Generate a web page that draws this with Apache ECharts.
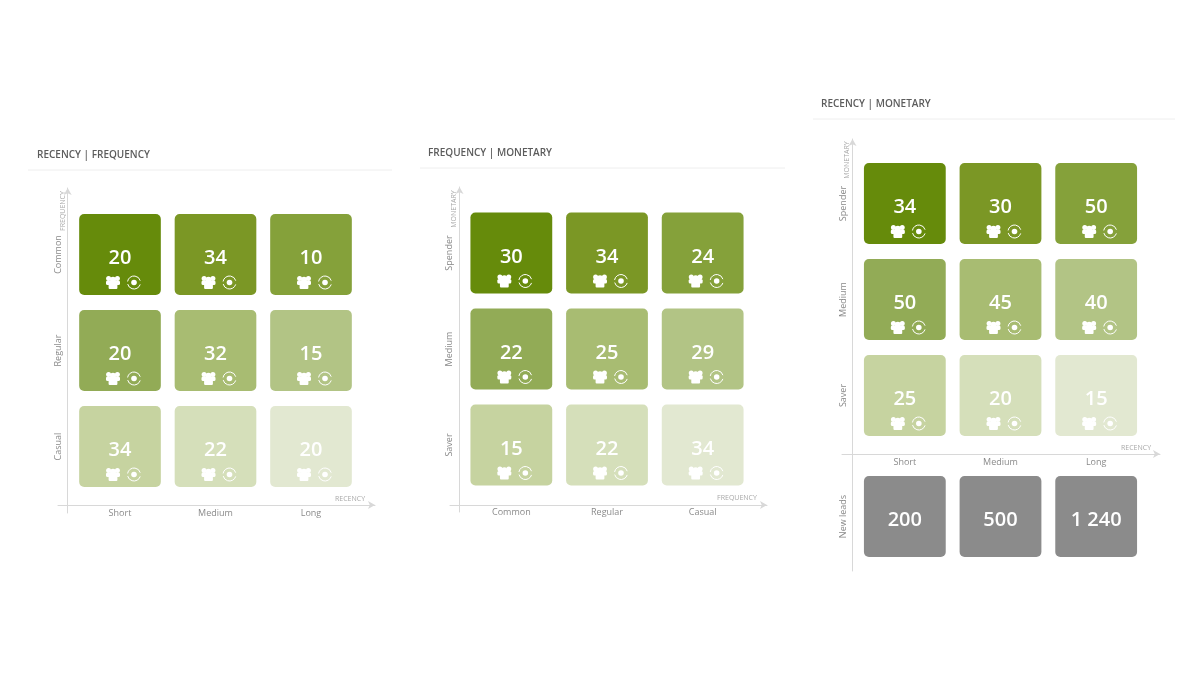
<!DOCTYPE html>
<html>
<head>
<meta charset="utf-8">
<style>html,body{margin:0;padding:0;background:#fff}#c{width:1200px;height:700px}</style>
<script src="https://cdn.jsdelivr.net/npm/echarts@6/dist/echarts.min.js"></script>
</head>
<body>
<div id="c"></div>
<script>
// Categories and tick labels
const recencyLabels = ['Short', 'Medium', 'Long'];
const frequencyRows = ['Casual', 'Regular', 'Common'];      // bottom to top
const frequencyCols = ['Common', 'Regular', 'Casual'];
const monetaryRows = ['Saver', 'Medium', 'Spender'];        // bottom to top
const newLeadsRow = ['New leads'];

// Values, top row first
const recencyFrequency = [[20, 34, 10], [20, 32, 15], [34, 22, 20]];
const frequencyMonetary = [[30, 34, 24], [22, 25, 29], [15, 22, 34]];
const recencyMonetary = [[34, 30, 50], [50, 45, 40], [25, 20, 15]];
const newLeads = [[200, 500, 1240]];
const newLeadsText = ['200', '500', '1 240'];

// Cell colours, top row first
const greens = [['#668B0B', '#7B9725', '#85A13A'], ['#92AB56', '#A8BC72', '#B2C485'], ['#C6D3A0', '#D5DFBA', '#E2E8D1']];
const greys = [['#8B8B8B', '#8B8B8B', '#8B8B8B']];

const panels = [
  {
    title: 'RECENCY | FREQUENCY', titleX: 37, titleY: 150, rule: [28, 392, 170],
    xName: 'RECENCY', xNamePos: [350, 499], yName: 'FREQUENCY', yNamePos: [63, 211],
    axisBox: { left: 58, top: 188, width: 317, height: 325, crossX: 9.7, crossY: 8 },
    blocks: [{ grid: { left: 72.25, top: 206.5, width: 286.5, height: 288 }, xs: recencyLabels, ys: frequencyRows, vals: recencyFrequency, cols: greens, icons: true, xLab: true }]
  },
  {
    title: 'FREQUENCY | MONETARY', titleX: 428, titleY: 148, rule: [420, 785, 168],
    xName: 'FREQUENCY', xNamePos: [737, 498], yName: 'MONETARY', yNamePos: [454, 209],
    axisBox: { left: 450, top: 187, width: 317, height: 325, crossX: 9.5, crossY: 7 },
    blocks: [{ grid: { left: 463.5, top: 205, width: 287, height: 288 }, xs: frequencyCols, ys: monetaryRows, vals: frequencyMonetary, cols: greens, icons: true, xLab: true }]
  },
  {
    title: 'RECENCY | MONETARY', titleX: 821, titleY: 99, rule: [813, 1175, 119],
    xName: 'RECENCY', xNamePos: [1136, 448], yName: 'MONETARY', yNamePos: [847, 160],
    axisBox: { left: 842, top: 139, width: 318, height: 432, crossX: 10.5, crossY: 117 },
    blocks: [
      { grid: { left: 857, top: 155.5, width: 287, height: 288 }, xs: recencyLabels, ys: monetaryRows, vals: recencyMonetary, cols: greens, icons: true, xLab: true },
      { grid: { left: 857, top: 468.5, width: 287, height: 96 }, xs: recencyLabels, ys: newLeadsRow, vals: newLeads, cols: greys, icons: false, xLab: false, texts: [newLeadsText] }
    ]
  }
];

const white = '#ffffff';
const fontFamily = '"Open Sans", sans-serif';

function peopleIcon(cx, cy) {
  const c = (x, y, r) => ({ type: 'circle', shape: { cx: cx + x, cy: cy + y, r }, style: { fill: white } });
  return [
    c(-4.4, -4, 2.5), c(4.4, -4, 2.5), c(0, -2.8, 3),
    { type: 'rect', shape: { x: cx - 7, y: cy - 2, width: 14, height: 4.4, r: 1.5 }, style: { fill: white } },
    { type: 'rect', shape: { x: cx - 4.4, y: cy, width: 8.8, height: 6.4, r: 1 }, style: { fill: white } }
  ];
}
function ringIcon(cx, cy) {
  return [
    { type: 'arc', shape: { cx, cy, r: 6.5, startAngle: 0.3, endAngle: 2.9 }, style: { stroke: white, fill: 'none', lineWidth: 1 } },
    { type: 'arc', shape: { cx, cy, r: 6.5, startAngle: 3.3, endAngle: 6.0 }, style: { stroke: white, fill: 'none', lineWidth: 1 } },
    { type: 'circle', shape: { cx, cy, r: 2.8 }, style: { fill: white } }
  ];
}

function cellSeries(block, gridIndex) {
  const data = [];
  const nRows = block.ys.length;
  block.vals.forEach((row, r) => row.forEach((v, c) => {
    data.push({
      value: [c, nRows - 1 - r, v],
      fill: block.cols[r][c],
      text: block.texts ? block.texts[r][c] : String(v)
    });
  }));
  return {
    type: 'custom',
    xAxisIndex: gridIndex,
    yAxisIndex: gridIndex,
    data,
    silent: true,
    renderItem(params, api) {
      const d = data[params.dataIndex];
      const p = api.coord([api.value(0), api.value(1)]);
      const size = api.size([1, 1]);
      const w = size[0] * 0.855, h = size[1] * 0.845;
      const children = [{
        type: 'rect',
        shape: { x: p[0] - w / 2, y: p[1] - h / 2, width: w, height: h, r: 5 },
        style: { fill: d.fill }
      }, {
        type: 'text',
        style: {
          text: d.text, x: p[0], y: p[1] + 4,
          align: 'center', verticalAlign: 'middle',
          fill: white, font: '600 20px ' + fontFamily
        }
      }];
      if (block.icons) {
        children.push(...peopleIcon(p[0] - 7, p[1] + 28), ...ringIcon(p[0] + 14, p[1] + 28));
      }
      return { type: 'group', children };
    }
  };
}

const grid = [], xAxis = [], yAxis = [], series = [], graphic = [], title = [];
const lineColor = '#d8d8d8';
panels.forEach(pn => {
  title.push({ text: pn.title, left: pn.titleX, top: pn.titleY, padding: 0, textStyle: { fontFamily, fontSize: 10, fontWeight: 600, color: '#5c5c5c' } });
  graphic.push({ type: 'line', shape: { x1: pn.rule[0], y1: pn.rule[2], x2: pn.rule[1], y2: pn.rule[2] }, style: { stroke: '#eeeeee', lineWidth: 1 } });
  graphic.push({ type: 'text', x: pn.xNamePos[0], y: pn.xNamePos[1], style: { text: pn.xName, align: 'center', verticalAlign: 'middle', fill: '#a8a8a8', font: '7px ' + fontFamily } });
  graphic.push({ type: 'text', x: pn.yNamePos[0], y: pn.yNamePos[1], rotation: Math.PI / 2, style: { text: pn.yName, align: 'center', verticalAlign: 'middle', fill: '#a8a8a8', font: '7px ' + fontFamily } });

  // Data grids
  pn.blocks.forEach(b => {
    const gi = grid.length;
    grid.push(b.grid);
    xAxis.push({
      gridIndex: gi, type: 'category', data: b.xs, position: 'bottom',
      axisLine: { show: false }, axisTick: { show: false }, splitLine: { show: false },
      axisLabel: { show: b.xLab, color: '#8a8a8a', fontSize: 9, fontFamily, margin: 14.5 }
    });
    yAxis.push({
      gridIndex: gi, type: 'category', data: b.ys, position: 'left',
      axisLine: { show: false }, axisTick: { show: false }, splitLine: { show: false },
      axisLabel: { color: '#8a8a8a', fontSize: 9, fontFamily, rotate: 90, margin: 14, align: 'center', verticalAlign: 'middle' }
    });
    series.push(cellSeries(b, gi));
  });

  // Axis-line grid: two crossing axes with arrows
  const ab = pn.axisBox, gi = grid.length;
  grid.push({ left: ab.left, top: ab.top, width: ab.width, height: ab.height });
  const bare = { axisTick: { show: false }, axisLabel: { show: false }, splitLine: { show: false } };
  const line = { show: true, onZero: true, symbol: ['none', 'arrow'], symbolSize: [6, 7], lineStyle: { color: lineColor, width: 1 } };
  xAxis.push({ gridIndex: gi, type: 'value', min: -ab.crossX, max: ab.width - ab.crossX, axisLine: line, ...bare });
  yAxis.push({ gridIndex: gi, type: 'value', min: -ab.crossY, max: ab.height - ab.crossY, axisLine: line, ...bare });
});

const chart = echarts.init(document.getElementById('c'), null, { renderer: 'canvas' });
chart.setOption({
  backgroundColor: '#ffffff',
  animation: false,
  title, grid, xAxis, yAxis, series,
  graphic: { elements: graphic }
});
</script>
</body>
</html>
